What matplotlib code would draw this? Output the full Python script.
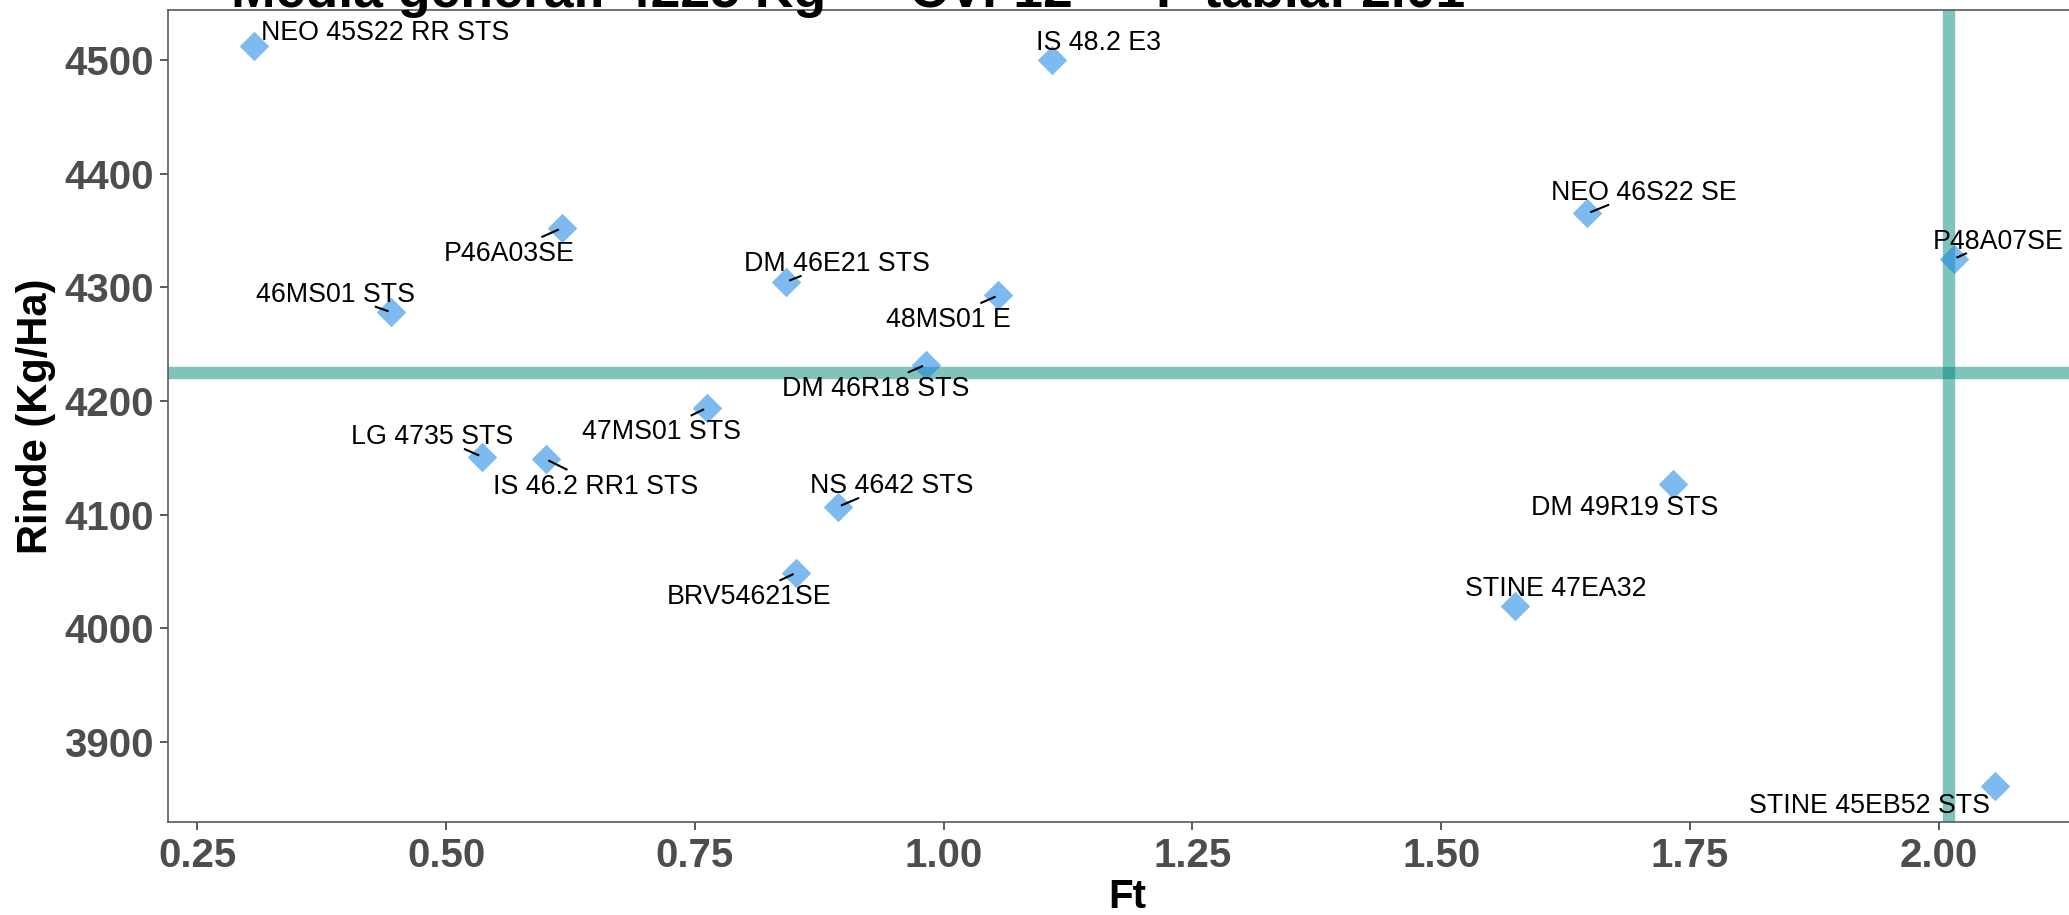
import matplotlib
matplotlib.use("Agg")
import matplotlib.pyplot as plt
import numpy as np

# ---------------- data ----------------
genotypes = ["NEO 45S22 RR STS", "IS 48.2 E3", "NEO 46S22 SE", "P48A07SE",
             "P46A03SE", "DM 46E21 STS", "46MS01 STS", "48MS01 E",
             "DM 46R18 STS", "47MS01 STS", "LG 4735 STS", "IS 46.2 RR1 STS",
             "NS 4642 STS", "BRV54621SE", "DM 49R19 STS", "STINE 47EA32",
             "STINE 45EB52 STS"]
ft = [0.307, 1.109, 1.647, 2.015,
      0.616, 0.842, 0.445, 1.055,
      0.982, 0.762, 0.536, 0.600,
      0.894, 0.852, 1.733, 1.574,
      2.057]
rinde = [4512, 4500, 4365, 4325,
         4352, 4305, 4278, 4293,
         4232, 4194, 4151, 4149,
         4107, 4049, 4127, 4020,
         3861]
media_general = 4225
f_tabla = 2.01
cv = 12
x_ticks = [0.25, 0.50, 0.75, 1.00, 1.25, 1.50, 1.75, 2.00]
x_ticklabels = ["0.25", "0.50", "0.75", "1.00", "1.25", "1.50", "1.75", "2.00"]
y_ticks = [3900, 4000, 4100, 4200, 4300, 4400, 4500]
title = f"Media general: {media_general} Kg — CV: {cv} — F tabla: {f_tabla:.2f}"

# ---------------- label layout (style, pixels; x right, y up) ----------------
label_offsets = [(131, 16), (46, 20), (56, 23), (45, 20),
                 (-52, -23), (51, 20), (-56, 20), (-50, -22),
                 (-50, -22), (-45, -22), (-50, 22), (50, -25),
                 (54, 23), (-47, -22), (-48, -21), (41, 19),
                 (-126, -17)]
show_segment = [False, False, True, True,
                True, True, True, True,
                True, True, True, True,
                True, True, False, False,
                False]

FONT = "Liberation Sans"
plt.rcParams["font.family"] = [FONT, "DejaVu Sans"]

W, H, DPI = 2069, 915, 100
fig = plt.figure(figsize=(W / DPI, H / DPI), dpi=DPI)
fig.patch.set_facecolor("white")

left_px, right_px, top_px, bottom_px = 168.0, 2086.0, 10.0, 822.3
ax = fig.add_axes([left_px / W, 1 - bottom_px / H,
                   (right_px - left_px) / W, (bottom_px - top_px) / H])
ax.set_xlim(0.2205, 2.148)
ax.set_ylim(3829.4, 4544.0)

ax.axhline(media_general, color="#00897B", alpha=0.5, lw=8.9, zorder=2)
ax.axvline(f_tabla, color="#00897B", alpha=0.5, lw=8.9, zorder=2)
ax.scatter(ft, rinde, marker="D", s=15.0 ** 2, color="#1E88E5", alpha=0.58,
           linewidths=0, zorder=3)

ax.set_xticks(x_ticks)
ax.set_xticklabels(x_ticklabels)
ax.set_yticks(y_ticks)
for lab in ax.get_xticklabels() + ax.get_yticklabels():
    lab.set_fontweight("bold")
    lab.set_fontsize(29)
    lab.set_color("#4D4D4D")
ax.tick_params(axis="both", length=5.5, width=1.3, color="#4D4D4D", pad=5)
for sp in ax.spines.values():
    sp.set_color("#5A5A5A")
    sp.set_linewidth(1.2)

ax.set_xlabel("Ft", fontsize=29, fontweight="bold", color="black", labelpad=2)
ax.set_ylabel("Rinde (Kg/Ha)", fontsize=30, fontweight="bold", color="black", labelpad=6)

fig.text(231 / W, 1 - 7.5 / H, title, fontsize=38.5, fontweight="bold",
         color="black", ha="left", va="baseline")

fs = 19.3
fs_px = fs * DPI / 72
cap = 0.716 * fs_px
texts = []
for name, x, y, (dx, dy) in zip(genotypes, ft, rinde, label_offsets):
    t = ax.annotate(name, (x, y), xytext=(dx, dy - cap / 2),
                    textcoords="offset pixels", ha="center", va="baseline",
                    fontsize=fs, color="black", zorder=5, annotation_clip=False)
    texts.append(t)

fig.canvas.draw()
r = fig.canvas.get_renderer()
inv = ax.transData.inverted()
pad = 4.5
for t, x, y, (dx, dy), show in zip(texts, ft, rinde, label_offsets, show_segment):
    if not show:
        continue
    bb = t.get_window_extent(r)
    px, py = ax.transData.transform((x, y))
    cx = (bb.x0 + bb.x1) / 2
    cy = py + dy
    hw = bb.width / 2 + pad
    hh = cap / 2 + pad
    vx, vy = cx - px, cy - py
    tx = hw / abs(vx) if vx != 0 else np.inf
    ty = hh / abs(vy) if vy != 0 else np.inf
    s = min(tx, ty)
    if s >= 1:
        continue
    ex, ey = cx - s * vx, cy - s * vy
    L = np.hypot(vx, vy)
    sx, sy = px + 3 * vx / L, py + 3 * vy / L
    (dx0, dy0), (dx1, dy1) = inv.transform([(sx, sy), (ex, ey)])
    ax.plot([dx0, dx1], [dy0, dy1], color="black", lw=1.5, zorder=4,
            solid_capstyle="butt", clip_on=False)

fig.savefig("out.png", dpi=DPI, facecolor="white")
